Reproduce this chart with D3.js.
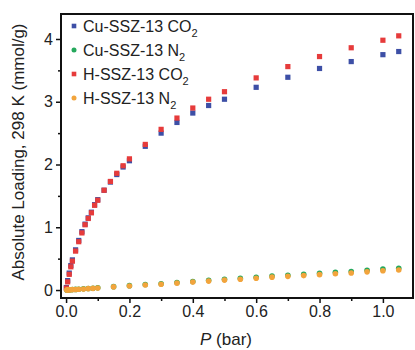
<!DOCTYPE html>
<html>
<head>
<meta charset="utf-8">
<script src="https://cdn.jsdelivr.net/npm/d3@7"></script>
<style>
  html, body { margin: 0; padding: 0; background: #fff; }
  svg { display: block; }
</style>
</head>
<body>
<div id="chart"></div>
<script>
(function () {
  'use strict';

  // ── Data ──
  var P_CO2 = [0.001, 0.005, 0.01, 0.015, 0.02, 0.03, 0.04, 0.05, 0.06, 0.07, 0.08, 0.09, 0.1,
    0.12, 0.14, 0.16, 0.18, 0.2, 0.25, 0.3, 0.35, 0.4, 0.45, 0.5, 0.6, 0.7, 0.8, 0.9, 1.0, 1.05];
  var CU_CO2 = [0.04, 0.15, 0.27, 0.39, 0.48, 0.64, 0.79, 0.93, 1.05, 1.15, 1.24, 1.36, 1.44,
    1.59, 1.72, 1.84, 1.96, 2.06, 2.29, 2.50, 2.67, 2.82, 2.94, 3.04, 3.23, 3.39, 3.53, 3.64, 3.75, 3.80];
  var H_CO2 = [0.03, 0.13, 0.25, 0.37, 0.46, 0.62, 0.77, 0.91, 1.04, 1.14, 1.23, 1.35, 1.43,
    1.59, 1.73, 1.86, 1.98, 2.09, 2.32, 2.56, 2.74, 2.90, 3.04, 3.16, 3.38, 3.56, 3.72, 3.86, 3.98, 4.05];

  var P_N2 = [0.002, 0.005, 0.01, 0.015, 0.02, 0.03, 0.04, 0.055, 0.07, 0.085, 0.1, 0.15, 0.2, 0.25,
    0.3, 0.35, 0.4, 0.45, 0.5, 0.55, 0.6, 0.65, 0.7, 0.75, 0.8, 0.85, 0.9, 0.95, 1.0, 1.05];
  var CU_N2 = [0.001, 0.002, 0.004, 0.005, 0.007, 0.010, 0.013, 0.019, 0.024, 0.029, 0.035, 0.054,
    0.070, 0.087, 0.101, 0.119, 0.136, 0.154, 0.171, 0.186, 0.204, 0.222, 0.236, 0.250, 0.266,
    0.282, 0.296, 0.315, 0.333, 0.346];
  var H_N2 = [0.001, 0.002, 0.003, 0.005, 0.006, 0.009, 0.012, 0.017, 0.022, 0.027, 0.032, 0.050,
    0.065, 0.080, 0.093, 0.110, 0.126, 0.142, 0.158, 0.172, 0.188, 0.205, 0.218, 0.230, 0.245,
    0.260, 0.272, 0.290, 0.306, 0.318];

  var X_TICKS = [0, 0.2, 0.4, 0.6, 0.8, 1.0];
  var X_MINOR = [0.1, 0.3, 0.5, 0.7, 0.9];
  var Y_TICKS = [0, 1, 2, 3, 4];
  var Y_MINOR = [0.5, 1.5, 2.5, 3.5];

  // ── Styles ──
  var WIDTH = 415, HEIGHT = 350;
  var MARGIN = { top: 14, right: 2, bottom: 52, left: 61 };
  var FONT = 'Liberation Sans, Arial, Helvetica, sans-serif';
  var C_BLUE = '#3d4fa6';
  var C_GREEN = '#25a85c';
  var C_RED = '#e63b3b';
  var C_ORANGE = '#f2a43c';

  // series in draw order (Cu under H)
  var series = [
    { name: 'Cu-SSZ-13', gas: 'CO', sub: '2', x: P_CO2, y: CU_CO2, color: C_BLUE, shape: 'square', legend: 0 },
    { name: 'Cu-SSZ-13', gas: 'N', sub: '2', x: P_N2, y: CU_N2, color: C_GREEN, shape: 'circle', legend: 1 },
    { name: 'H-SSZ-13', gas: 'CO', sub: '2', x: P_CO2, y: H_CO2, color: C_RED, shape: 'square', legend: 2 },
    { name: 'H-SSZ-13', gas: 'N', sub: '2', x: P_N2, y: H_N2, color: C_ORANGE, shape: 'circle', legend: 3 }
  ];

  var svg = d3.select('#chart').append('svg')
    .attr('width', WIDTH)
    .attr('height', HEIGHT);

  var x = d3.scaleLinear().domain([-0.016, 1.095])
    .range([MARGIN.left, WIDTH - MARGIN.right]);
  var y = d3.scaleLinear().domain([-0.127, 4.398])
    .range([HEIGHT - MARGIN.bottom, MARGIN.top]);

  // ── Points ──
  series.forEach(function (s) {
    var pts = s.x.map(function (p, i) { return [p, s.y[i]]; });
    var g = svg.append('g').attr('fill', s.color);
    if (s.shape === 'square') {
      g.selectAll('rect').data(pts).join('rect')
        .attr('x', function (d) { return x(d[0]) - 2.6; })
        .attr('y', function (d) { return y(d[1]) - 2.6; })
        .attr('width', 5.2)
        .attr('height', 5.2);
    } else {
      g.selectAll('circle').data(pts).join('circle')
        .attr('cx', function (d) { return x(d[0]); })
        .attr('cy', function (d) { return y(d[1]); })
        .attr('r', 2.8);
    }
  });

  // ── Axes ──
  var bottom = HEIGHT - MARGIN.bottom;
  var xAxis = d3.axisBottom(x).tickValues(X_TICKS).tickSize(5).tickPadding(3)
    .tickFormat(d3.format('.1f'));
  var xMinor = d3.axisBottom(x).tickValues(X_MINOR).tickSize(3).tickFormat('');
  var yAxis = d3.axisLeft(y).tickValues(Y_TICKS).tickSize(5).tickPadding(3)
    .tickFormat(d3.format('d'));
  var yMinor = d3.axisLeft(y).tickValues(Y_MINOR).tickSize(3).tickFormat('');

  [xAxis, xMinor].forEach(function (ax) {
    svg.append('g').attr('transform', 'translate(0,' + bottom + ')').call(ax);
  });
  [yAxis, yMinor].forEach(function (ax) {
    svg.append('g').attr('transform', 'translate(' + MARGIN.left + ',0)').call(ax);
  });

  svg.selectAll('.domain').remove();
  svg.selectAll('.tick line').attr('stroke', '#111').attr('stroke-width', 1.5);
  svg.selectAll('.tick text')
    .attr('font-family', FONT)
    .attr('font-size', '16px')
    .attr('fill', '#222');

  // frame
  svg.append('rect')
    .attr('x', MARGIN.left)
    .attr('y', MARGIN.top)
    .attr('width', WIDTH - MARGIN.right - MARGIN.left)
    .attr('height', bottom - MARGIN.top)
    .attr('fill', 'none')
    .attr('stroke', '#111')
    .attr('stroke-width', 2);

  // ── Axis titles ──
  var xt = svg.append('text')
    .attr('x', 226)
    .attr('y', 345)
    .attr('text-anchor', 'middle')
    .attr('font-family', FONT)
    .attr('font-size', '17px')
    .attr('fill', '#222');
  xt.append('tspan').attr('font-style', 'italic').text('P');
  xt.append('tspan').text(' (bar)');

  svg.append('text')
    .attr('transform', 'translate(24,152) rotate(-90)')
    .attr('text-anchor', 'middle')
    .attr('font-family', FONT)
    .attr('font-size', '17px')
    .attr('fill', '#222')
    .text('Absolute Loading, 298 K (mmol/g)');

  // ── Legend ──
  var LEG_X = 74, LEG_Y0 = 26, LEG_DY = 24;
  var leg = svg.append('g');
  series.forEach(function (s) {
    var cy = LEG_Y0 + s.legend * LEG_DY;
    if (s.shape === 'square') {
      leg.append('rect').attr('x', LEG_X - 2.3).attr('y', cy - 2.3)
        .attr('width', 4.6).attr('height', 4.6).attr('fill', s.color);
    } else {
      leg.append('circle').attr('cx', LEG_X).attr('cy', cy).attr('r', 2.5).attr('fill', s.color);
    }
    var t = leg.append('text')
      .attr('x', LEG_X + 9)
      .attr('y', cy + 6)
      .attr('font-family', FONT)
      .attr('font-size', '16px')
      .attr('fill', '#222');
    t.append('tspan').text(s.name + ' ' + s.gas);
    t.append('tspan').attr('dy', 5).attr('font-size', '11px').text(s.sub);
  });
})();
</script>
</body>
</html>
